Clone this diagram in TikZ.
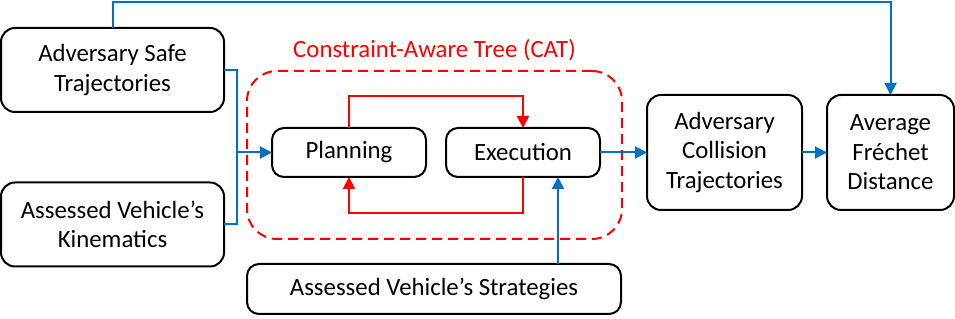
\documentclass[tikz,border=0pt]{standalone}
\usepackage{fontspec}
\setmainfont{Carlito}
\usepackage{tikz}
\usetikzlibrary{arrows.meta, positioning}
\definecolor{flowblue}{RGB}{0, 112, 192}
\definecolor{catred}{RGB}{255, 0, 0}

\begin{document}
\begin{tikzpicture}[
    x=0.5pt, y=-0.5pt,
    blk/.style={draw=black, line width=1pt, rounded corners=6pt, align=center,
                inner sep=0pt, outer sep=0pt, font=\fontsize{12.4}{14.8}\selectfont},
    inbox/.style={blk, minimum width=111.5pt, minimum height=42pt, rounded corners=7pt},
    stage/.style={blk, minimum width=77pt, minimum height=24.5pt},
    outbox/.style={blk, minimum height=57.5pt, rounded corners=7pt},
    flow/.style={draw=flowblue, line width=1pt, -{Triangle[length=6pt, width=6pt]}},
    catflow/.style={draw=catred, line width=1pt, -{Triangle[length=6pt, width=6pt]}}
]
    \useasboundingbox (0,0) rectangle (955,319);

    \node[inbox] (safe) at (112.5,70) {Adversary Safe\\Trajectories};
    \node[inbox] (kin) at (112.5,224.5) {Assessed Vehicle’s\\Kinematics};

    \node[draw=catred, line width=1pt, dash pattern=on 5pt off 3pt, rounded corners=15pt,
          outer sep=0pt, minimum width=187.5pt, minimum height=84pt] (cat) at (434.5,155) {};
    \node[text=catred, inner sep=0pt, font=\fontsize{12.4}{14.8}\selectfont,
          above=5pt of cat] (catlabel) {Constraint-Aware Tree (CAT)};

    \node[stage] (plan) at (349,152.5) {Planning};
    \node[stage, right=10pt of plan] (exec) {Execution};
    \node[blk, minimum width=187pt, minimum height=25pt] (strat) at (434,289) {Assessed Vehicle’s Strategies};

    \node[outbox, minimum width=77.5pt, right=23.5pt of exec] (coll) {Adversary\\Collision\\Trajectories};
    \node[outbox, minimum width=63.5pt, right=12.5pt of coll] (avg) {Average\\Fréchet\\Distance};

    % inputs into the tree
    \coordinate (merge) at (237,152.5);
    \draw[flow] (safe.east) -| (merge) -- (plan.west);
    \draw[draw=flowblue, line width=1pt] (kin.east) -| (merge);
    \draw[flow] (safe.north) -- ++(0,-26) -| (avg.north);
    \draw[flow] (strat.north -| exec.-35) -- (exec.-35);

    % loop inside the tree
    \draw[catflow] (plan.north) -- ++(0,-32) -| (exec.north);
    \draw[catflow] (exec.south) -- ++(0,36) -| (plan.south);

    % outputs
    \draw[flow] (exec) -- (coll);
    \draw[flow] (coll) -- (avg);
\end{tikzpicture}
\end{document}
